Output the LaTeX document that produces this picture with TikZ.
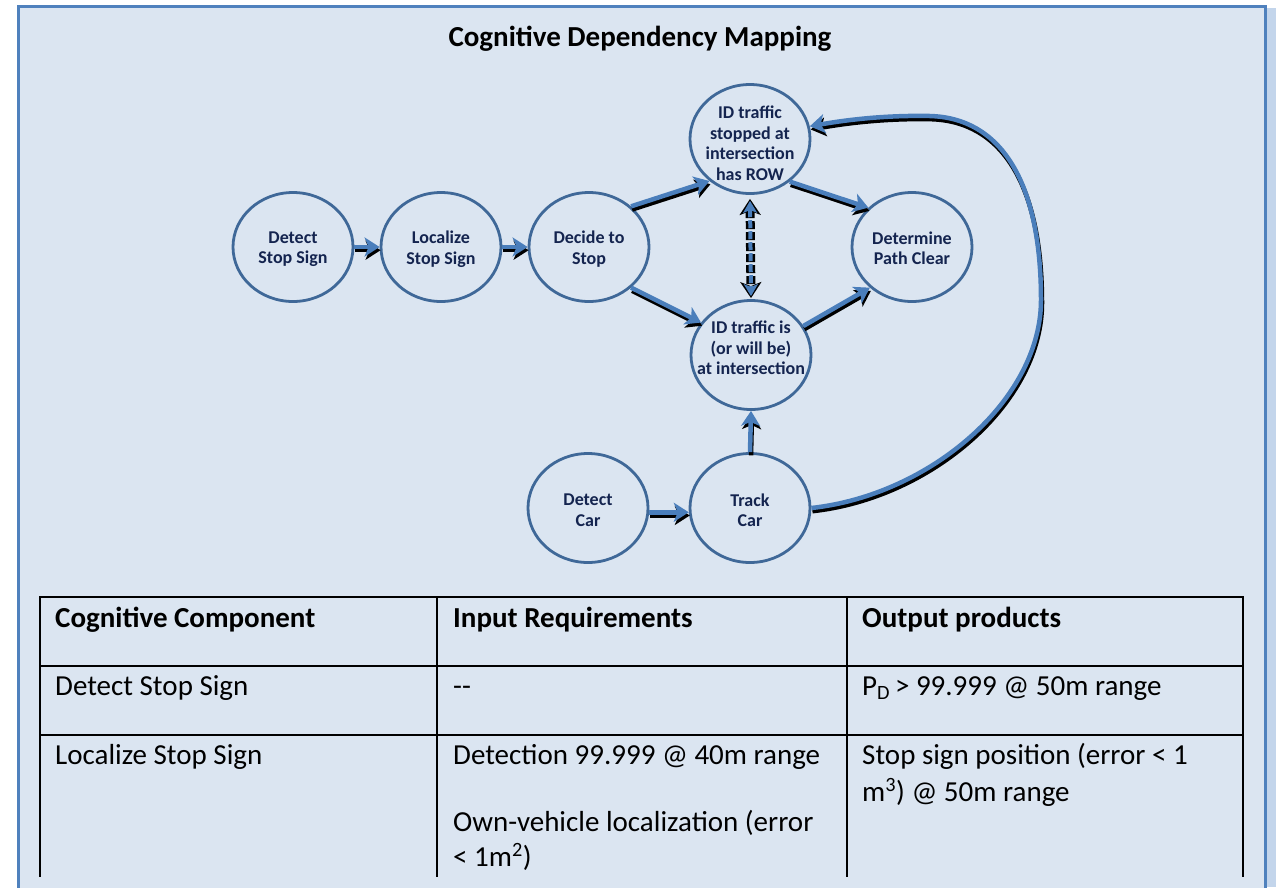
\documentclass[tikz,border=0pt]{standalone}
\usepackage{fontspec}
\setmainfont{Carlito}
\usetikzlibrary{arrows.meta,shapes.geometric}

\definecolor{panel}{HTML}{DBE5F1}
\definecolor{paneledge}{HTML}{4F81BD}
\definecolor{panelshade}{HTML}{C3D5EB}
\definecolor{ring}{HTML}{3F6898}
\definecolor{flowblue}{HTML}{4A7EBB}
\definecolor{ink}{HTML}{14244F}

\tikzset{
  stage/.style={ellipse, draw=ring, line width=2.8pt, minimum width=120pt,
    minimum height=109pt, inner sep=0pt},
  stagetext/.style={align=center, text=ink, inner sep=0pt,
    font=\fontsize{18}{20.5}\selectfont\bfseries},
  flowtip/.style={-{Stealth[length=15pt,width=19pt,inset=4pt]}},
  flow/.style={flowtip, draw=flowblue, line width=4.5pt},
  flowshade/.style={flowtip, draw=black, line width=4.5pt,
    transform canvas={shift={(1pt,-3.2pt)}}},
  cell/.style={anchor=base west, inner sep=0pt, font=\fontsize{29}{35.5}\selectfont},
  cellhead/.style={anchor=base west, inner sep=0pt,
    font=\fontsize{29}{35.5}\selectfont\bfseries},
  tablerule/.style={draw=black, line width=2pt}
}
% a blue connector with a dark drop shadow underneath
\newcommand\shadedlink[1]{\draw[flowshade] #1; \draw[flow] #1;}

\begin{document}
\begin{tikzpicture}[x=1pt, y=-1pt]
  \useasboundingbox (0,0) rectangle (1276,887);
  % page and framed panel
  \fill[white] (0,0) rectangle (1276,887);
  \fill[panelshade] (1267,8) rectangle (1276,887);
  \draw[fill=panel, draw=paneledge, line width=3pt] (18.5,6.5) rectangle (1265.5,900);

  % heading
  \node[font=\fontsize{29}{35.5}\selectfont\bfseries, anchor=base, inner sep=0pt]
    (title) at (640,46) {Cognitive Dependency Mapping};

  % dependency graph
  \node[stage] (dss) at (293,247) {};
  \node[stage] (lss) at (441,247) {};
  \node[stage] (dts) at (589,247) {};
  \node[stage] (id1) at (750,139) {};
  \node[stage] (dpc) at (912,247) {};
  \node[stage] (id2) at (751,355) {};
  \node[stage] (dc)  at (588,508) {};
  \node[stage] (tc)  at (750,508) {};

  \node[stagetext] (dss-t) at (293,249) {Detect\\Stop Sign};
  \node[stagetext] (lss-t) at (441,249) {Localize\\Stop Sign};
  \node[stagetext] (dts-t) at (589,249) {Decide to\\Stop};
  \node[stagetext] (id1-t) at (750,143) {ID traffic\\stopped at\\intersection\\has ROW};
  \node[stagetext] (dpc-t) at (912,248) {Determine\\Path Clear};
  \node[stagetext] (id2-t) at (751,348) {ID traffic is\\(or will be)\\at intersection};
  \node[stagetext] (dc-t)  at (588,510) {Detect\\Car};
  \node[stagetext] (tc-t)  at (750,510) {Track\\Car};

  \shadedlink{(dss) -- (lss)}
  \shadedlink{(lss) -- (dts)}
  \shadedlink{(dts.44) -- (id1.226)}
  \shadedlink{(dts.-44) -- (id2.147)}
  \shadedlink{(id1.-47) -- (dpc.138)}
  \shadedlink{(id2.29) -- (dpc.224)}
  \shadedlink{(dc.-4) -- (tc.184)}
  \shadedlink{(tc.north) -- (id2.south)}

  % two-way dependency between the traffic checks
  \draw[black, line width=9pt, dash pattern=on 8pt off 3pt,
    {Stealth[length=16pt,width=21pt,inset=4pt]}-{Stealth[length=16pt,width=21pt,inset=4pt]}]
    ([yshift=-4pt]id1.south) -- ([yshift=1pt]id2.north);
  \draw[flowblue, line width=4pt, dash pattern=on 8pt off 3pt,
    {Stealth[length=12pt,width=14pt,inset=3pt]}-{Stealth[length=12pt,width=14pt,inset=3pt]}]
    ([yshift=-6pt]id1.south) -- ([yshift=3pt]id2.north);

  % feedback loop from tracking back to right-of-way check
  \coordinate (loopR) at (1041,300);
  \coordinate (loopT) at (930,116);
  \shadedlink{(tc.0) .. controls (930,495) and (1041,400) .. (loopR)
    .. controls (1041,180) and (1000,118) .. (loopT)
    .. controls (880,115) and (840,121) .. (id1.12)}

  % requirements table
  \draw[tablerule] (40,597) -- (1243,597);
  \draw[tablerule] (40,666) -- (1243,666);
  \draw[tablerule] (40,735) -- (1243,735);
  \draw[tablerule] (40,596) -- (40,877);
  \draw[tablerule] (437,596) -- (437,877);
  \draw[tablerule] (847,596) -- (847,877);
  \draw[tablerule] (1243,596) -- (1243,877);

  \node[cellhead] (h1) at (55,627) {Cognitive Component};
  \node[cellhead] (h2) at (453,627) {Input Requirements};
  \node[cellhead] (h3) at (862,627) {Output products};

  \node[cell] (a1) at (55,695) {Detect Stop Sign};
  \node[cell] (a2) at (453,695) {-{}-};
  \node[cell] (a3) at (862,695) {P\textsubscript{D}\,> 99.999 @ 50m range};

  \node[cell] (b1) at (55,764) {Localize Stop Sign};
  \node[cell] (b2) at (453,764) {Detection 99.999 @ 40m range};
  \node[cell] (b2b) at (453,831) {Own-vehicle localization (error};
  \node[cell] (b2c) at (453,866) {< 1m\textsuperscript{2})};
  \node[cell] (b3) at (862,764) {Stop sign position (error < 1};
  \node[cell] (b3b) at (862,801) {m\textsuperscript{3}) @ 50m range};
\end{tikzpicture}
\end{document}
